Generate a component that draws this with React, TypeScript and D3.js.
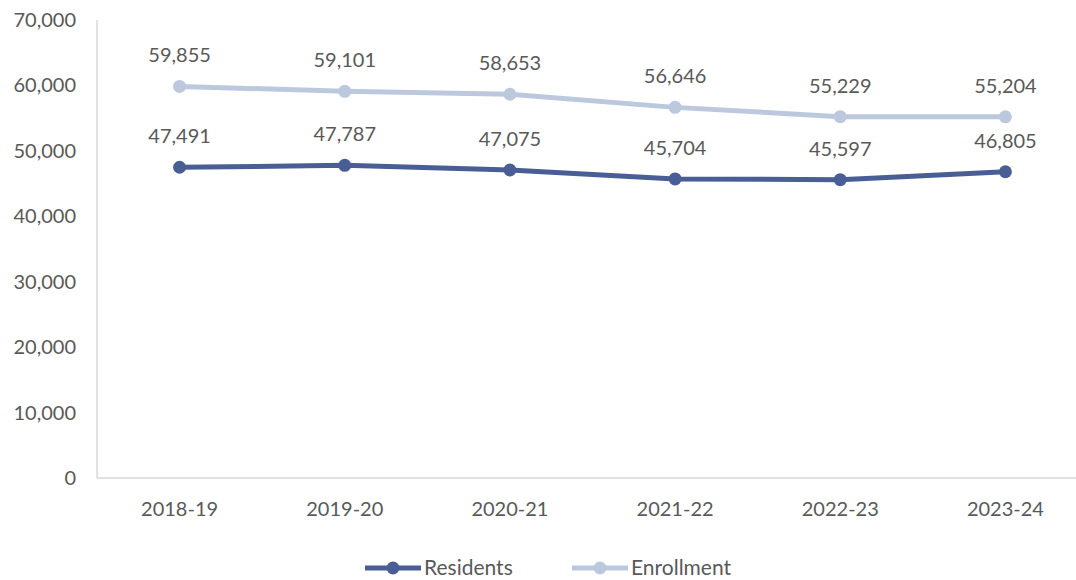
import React from 'react';
import * as d3 from 'd3';

const years = ['2018-19', '2019-20', '2020-21', '2021-22', '2022-23', '2023-24'];
const residents = [47491, 47787, 47075, 45704, 45597, 46805];
const enrollment = [59855, 59101, 58653, 56646, 55229, 55204];
const yTicks = [0, 10000, 20000, 30000, 40000, 50000, 60000, 70000];

const W = 1076;
const H = 580;
const FONT = "Lato, 'Open Sans', sans-serif";
const TEXT = '#595959';
const FS = 20;

const App: React.FC = () => {
  const x = d3.scaleBand<string>().domain(years).range([97, 1088]);
  const y = d3.scaleLinear().domain([0, 70000]).range([478, 20]);
  const fmt = d3.format(',');
  const cx = (d: string) => (x(d) ?? 0) + x.bandwidth() / 2;

  const series = [
    { name: 'Residents', values: residents, color: '#4A5E96' },
    { name: 'Enrollment', values: enrollment, color: '#BCC8DE' },
  ];

  const line = d3.line<number>()
    .x((_, i) => cx(years[i]))
    .y(v => y(v));

  const legendX = [365, 572];

  return (
    <svg width={W} height={H} style={{ position: 'absolute', left: 0, top: 0 }} fontFamily={FONT}>
      <rect width={W} height={H} fill="#fff" />
      {/* axes */}
      <line x1={97} x2={97} y1={20} y2={478} stroke="#d9d9d9" strokeWidth={1.5} />
      <line x1={97} x2={1088} y1={478} y2={478} stroke="#d9d9d9" strokeWidth={1.5} />
      {yTicks.map(t => (
        <text key={t} x={76} y={y(t)} dy="0.35em" textAnchor="end" fontSize={FS} fill={TEXT}>
          {fmt(t)}
        </text>
      ))}
      {years.map(yr => (
        <text key={yr} x={cx(yr)} y={509} dy="0.35em" textAnchor="middle" fontSize={FS} fill={TEXT}>
          {yr}
        </text>
      ))}
      {/* series */}
      {series.slice().reverse().map(s => (
        <g key={s.name}>
          <path d={line(s.values) ?? ''} fill="none" stroke={s.color} strokeWidth={5} strokeLinejoin="round" />
          {s.values.map((v, i) => (
            <circle key={i} cx={cx(years[i])} cy={y(v)} r={6.5} fill={s.color} />
          ))}
          {s.values.map((v, i) => (
            <text key={'l' + i} x={cx(years[i])} y={y(v) - 31} dy="0.35em" textAnchor="middle" fontSize={FS} fill={TEXT}>
              {fmt(v)}
            </text>
          ))}
        </g>
      ))}
      {/* legend */}
      {series.map((s, i) => (
        <g key={s.name} transform={`translate(${legendX[i]},568)`}>
          <line x1={0} x2={56} y1={0} y2={0} stroke={s.color} strokeWidth={5} />
          <circle cx={28} cy={0} r={6.5} fill={s.color} />
          <text x={59} y={0} dy="0.35em" fontSize={21} fill={TEXT}>{s.name}</text>
        </g>
      ))}
    </svg>
  );
};

export default App;
